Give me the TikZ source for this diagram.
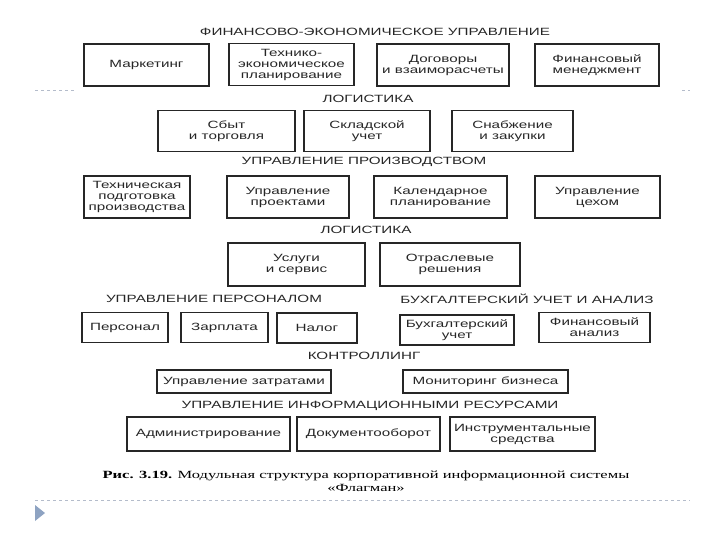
\documentclass[tikz,border=0pt]{standalone}
\usepackage{fontspec}
\setmainfont{Liberation Serif}
\newfontfamily\scanfont[FakeStretch=1.45]{Liberation Sans}
\newfontfamily\capfont[FakeStretch=1.5]{Liberation Serif}
\definecolor{slideline}{HTML}{B4BCCB}
\definecolor{slidebullet}{HTML}{8EA3C2}
\tikzset{
  modbox/.style={draw=black!85, line width=1.1pt, align=center, inner sep=0pt,
                 font=\scanfont\fontsize{10.5}{11}\selectfont, text=black!85},
  grouptitle/.style={font=\scanfont\fontsize{10.5}{11}\selectfont, text=black!85, inner sep=0pt},
}

\begin{document}
\begin{tikzpicture}[x=1pt, y=-1pt]
  \useasboundingbox (0,0) rectangle (720,540);
  % slide frame
  \draw[slideline, dashed] (35,90) -- (75,90);
  \draw[slideline, dashed] (682,90) -- (690,90);
  \draw[slideline, dashed] (35,500) -- (690,500);
  \fill[slidebullet] (35,505) -- (45,513) -- (35,521) -- cycle;

  % financial block
  \node[grouptitle] (fin) at (375,32) {ФИНАНСОВО-ЭКОНОМИЧЕСКОЕ УПРАВЛЕНИЕ};
  \node[modbox, minimum width=125pt, minimum height=42pt] (mkt) at (146.5,65) {Маркетинг};
  \node[modbox, minimum width=125pt, minimum height=42pt] (tep) at (291.5,64.5) {Технико-\\экономическое\\планирование};
  \node[modbox, minimum width=132pt, minimum height=42pt] (dog) at (443,65) {Договоры\\и взаиморасчеты};
  \node[modbox, minimum width=124pt, minimum height=42pt] (fm) at (597,65) {Финансовый\\менеджмент};

  % logistics
  \node[grouptitle] (logA) at (368,99) {ЛОГИСТИКА};
  \node[modbox, minimum width=137pt, minimum height=41pt] (sbyt) at (226.5,131) {Сбыт\\и торговля};
  \node[modbox, minimum width=126pt, minimum height=41pt] (sklad) at (367,131) {Складской\\учет};
  \node[modbox, minimum width=121pt, minimum height=41pt] (snab) at (512.5,131) {Снабжение\\и закупки};

  % production
  \node[grouptitle] (prod) at (364,162) {УПРАВЛЕНИЕ ПРОИЗВОДСТВОМ};
  \node[modbox, minimum width=106pt, minimum height=42pt] (ttp) at (137,197) {Техническая\\подготовка\\производства};
  \node[modbox, minimum width=122pt, minimum height=42pt] (upr) at (288,197) {Управление\\проектами};
  \node[modbox, minimum width=133pt, minimum height=42pt] (kal) at (440.5,197) {Календарное\\планирование};
  \node[modbox, minimum width=125pt, minimum height=42pt] (ceh) at (597.5,197) {Управление\\цехом};

  % logistics again
  \node[grouptitle] (logB) at (366,230) {ЛОГИСТИКА};
  \node[modbox, minimum width=137pt, minimum height=43pt] (usl) at (296.5,264.5) {Услуги\\и сервис};
  \node[modbox, minimum width=140pt, minimum height=43pt] (otr) at (450,264.5) {Отраслевые\\решения};

  % staff and accounting
  \node[grouptitle] (pers) at (214,299) {УПРАВЛЕНИЕ ПЕРСОНАЛОМ};
  \node[grouptitle] (buh) at (527,299) {БУХГАЛТЕРСКИЙ УЧЕТ И АНАЛИЗ};
  \node[modbox, minimum width=86pt, minimum height=30pt] (staff) at (125,327.5) {Персонал};
  \node[modbox, minimum width=87pt, minimum height=30pt] (zarp) at (224.5,327.5) {Зарплата};
  \node[modbox, minimum width=80pt, minimum height=30pt] (nalog) at (317,328) {Налог};
  \node[modbox, minimum width=114pt, minimum height=30pt] (buhu) at (457,330) {Бухгалтерский\\учет};
  \node[modbox, minimum width=111pt, minimum height=30pt] (fa) at (594.5,327.5) {Финансовый\\анализ};

  % controlling
  \node[grouptitle] (ctrl) at (364,356) {КОНТРОЛЛИНГ};
  \node[modbox, minimum width=174pt, minimum height=23pt] (zatr) at (244,381.5) {Управление затратами};
  \node[modbox, minimum width=165pt, minimum height=23pt] (monit) at (485.5,381.5) {Мониторинг бизнеса};

  % information resources
  \node[grouptitle] (info) at (370,406) {УПРАВЛЕНИЕ ИНФОРМАЦИОННЫМИ РЕСУРСАМИ};
  \node[modbox, minimum width=163pt, minimum height=34pt] (adm) at (208.5,434) {Администрирование};
  \node[modbox, minimum width=143pt, minimum height=34pt] (doc) at (368.5,434) {Документооборот};
  \node[modbox, minimum width=145pt, minimum height=34pt] (instr) at (522.5,434) {Инструментальные\\средства};

  % caption
  \node[font=\capfont\fontsize{11}{13}\selectfont, align=center, inner sep=0pt, anchor=north] (cap) at (366,471)
    {\textbf{Рис. 3.19.} Модульная структура корпоративной информационной системы\\«Флагман»};
\end{tikzpicture}
\end{document}
